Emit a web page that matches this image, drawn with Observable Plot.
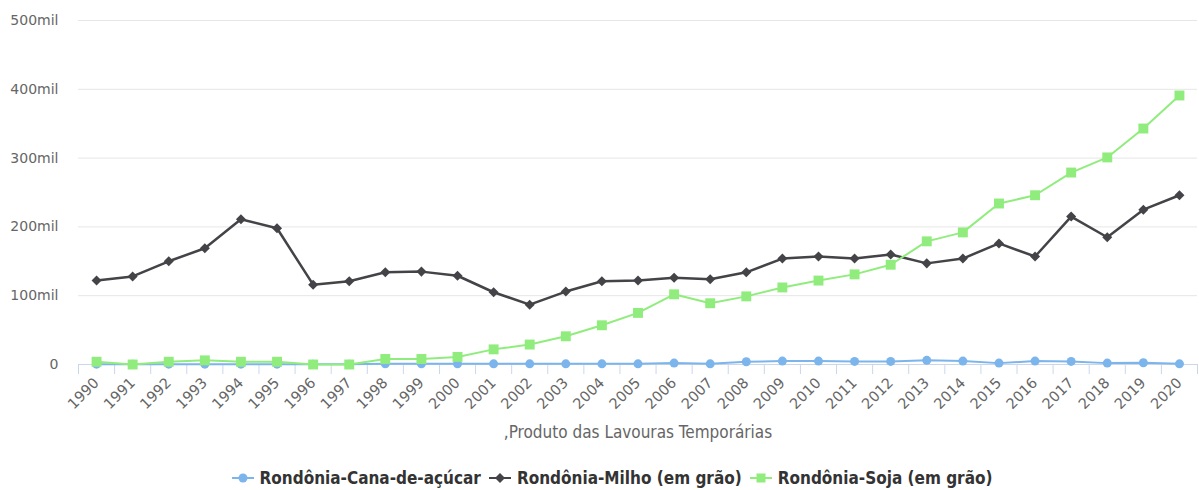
<!DOCTYPE html>
<html>
<head>
<meta charset="utf-8">
<script src="https://cdn.jsdelivr.net/npm/d3@7"></script>
<script src="https://cdn.jsdelivr.net/npm/@observablehq/plot@0.6"></script>
<style>
  html, body { margin: 0; padding: 0; background: #fff; }
  #chart svg { display: block; }
  #legend { display: flex; justify-content: center; gap: 8px; margin-top: 20px; padding-left: 25px;
    font-family: "DejaVu Sans Condensed", "DejaVu Sans", sans-serif; font-weight: bold; font-size: 17px; color: #333; line-height: 20px; }
  #legend .item { display: flex; align-items: center; gap: 6px; }
</style>
</head>
<body>
<div id="chart"></div>
<div id="legend"></div>
<script>
const years = [1990,1991,1992,1993,1994,1995,1996,1997,1998,1999,2000,2001,2002,2003,2004,2005,2006,2007,2008,2009,2010,2011,2012,2013,2014,2015,2016,2017,2018,2019,2020];
const cana  = [500,500,500,500,500,500,500,500,1000,1000,1000,1000,1000,1000,1000,1000,2000,1000,4000,5000,5000,4500,4500,6000,5000,2000,5000,4500,2000,2500,1000];
const milho = [122000,128000,150000,169000,211000,198000,116000,121000,134000,135000,129000,105000,87000,106000,121000,122000,126000,124000,134000,154000,157000,154000,160000,147000,154000,176000,157000,215000,185000,225000,246000];
const soja  = [4000,0,4000,6000,4000,4000,0,0,8000,8000,11000,22000,29000,41000,57000,75000,102000,89000,99000,112000,122000,131000,145000,179000,192000,234000,246000,279000,301000,343000,391000];
const seriesNames = ["Rondônia-Cana-de-açúcar", "Rondônia-Milho (em grão)", "Rondônia-Soja (em grão)"];
const seriesColors = ["#7cb5ec", "#434348", "#90ed7d"];
const yTicks = [0, 100000, 200000, 300000, 400000, 500000];
const xTitle = ",Produto das Lavouras Temporárias";

const diamond = {
  draw(ctx, size) {
    const r = Math.sqrt(size / 2);
    ctx.moveTo(0, -r); ctx.lineTo(r, 0); ctx.lineTo(0, r); ctx.lineTo(-r, 0); ctx.closePath();
  }
};
const symbols = ["circle", diamond, "square"];
const radii = [4.5, 4, 5.6];
const widths = [2, 2.5, 2];

const allValues = [cana, milho, soja];
const data = [];
allValues.forEach((vals, s) => vals.forEach((v, i) => data.push({series: seriesNames[s], year: years[i], value: v, idx: s})));
const boundaries = [...years.map(y => y - 0.5), years[years.length - 1] + 0.5];

const fontFam = "'DejaVu Sans', sans-serif";
const marks = [
  Plot.gridY(yTicks, {stroke: "#e6e6e6", strokeOpacity: 1, strokeWidth: 1}),
  Plot.axisY(yTicks, {tickSize: 0, tickPadding: 20, label: null, fill: "#666", fontSize: 14,
    tickFormat: d => d === 0 ? "0" : (d / 1000) + "mil"}),
  Plot.ruleY([0], {stroke: "#ccd6eb", strokeWidth: 1}),
  Plot.axisX(boundaries, {tickSize: 10, stroke: "#ccd6eb", strokeOpacity: 1, tickFormat: () => "", label: null}),
  Plot.axisX(years, {tickSize: 0, tickPadding: 16, tickRotate: -45, tickFormat: d => String(d), label: null, fill: "#666", fontSize: 14.5}),
  Plot.text([xTitle], {frameAnchor: "bottom", dy: 73, fill: "#666", fontSize: 17, fontFamily: "'DejaVu Sans Condensed', 'DejaVu Sans', sans-serif"})
];
allValues.forEach((vals, s) => {
  const d = data.filter(r => r.idx === s);
  marks.push(Plot.line(d, {x: "year", y: "value", stroke: seriesColors[s], strokeWidth: widths[s], curve: "linear"}));
  marks.push(Plot.dot(d, {x: "year", y: "value", fill: seriesColors[s], r: radii[s], symbol: () => symbols[s], stroke: null}));
});

const chart = Plot.plot({
  width: 1199,
  height: 448,
  marginTop: 20,
  marginBottom: 84,
  marginLeft: 78,
  marginRight: 2,
  style: {fontFamily: fontFam, fontSize: "14px", color: "#666", background: "#fff"},
  x: {type: "linear", domain: [years[0] - 0.5, years[years.length - 1] + 0.5]},
  y: {domain: [0, 500000]},
  marks
});
document.getElementById("chart").appendChild(chart);

const legend = document.getElementById("legend");
seriesNames.forEach((name, s) => {
  const item = document.createElement("div");
  item.className = "item";
  const sym = s === 0 ? `<circle cx="11" cy="7" r="4.5" fill="${seriesColors[s]}"/>`
    : s === 1 ? `<path d="M11 2 L16 7 L11 12 L6 7 Z" fill="${seriesColors[s]}"/>`
    : `<rect x="6.5" y="2.5" width="9" height="9" fill="${seriesColors[s]}"/>`;
  item.innerHTML = `<svg width="22" height="14"><line x1="0" x2="22" y1="7" y2="7" stroke="${seriesColors[s]}" stroke-width="2"/>${sym}</svg><span>${name}</span>`;
  legend.appendChild(item);
});
</script>
</body>
</html>
